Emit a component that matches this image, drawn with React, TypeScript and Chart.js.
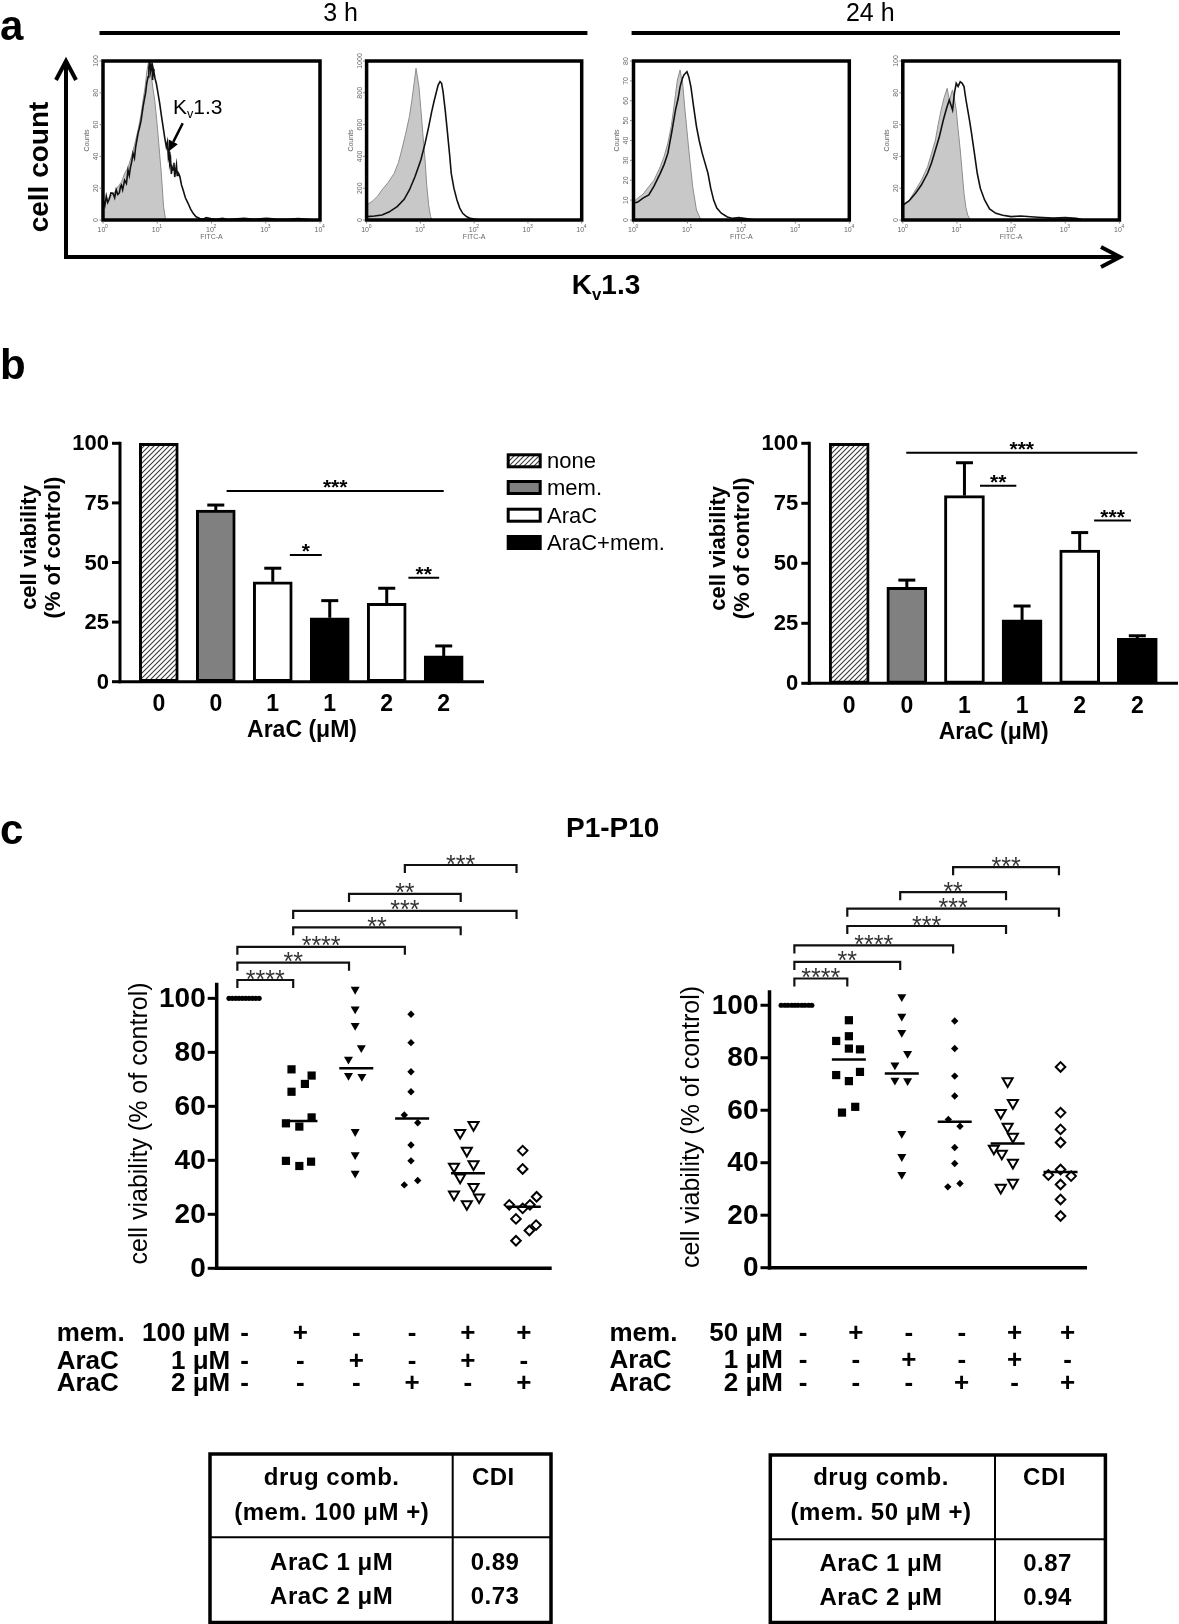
import React, { useEffect, useRef } from "react";
import { Chart, registerables } from "chart.js";

Chart.register(...registerables);

const PAGE_W = 1179;
const PAGE_H = 1624;
const SANS = '"Liberation Sans", Arial, Helvetica, sans-serif';

/* ================= Panel a : flow cytometry histograms ================= */
const histTimeLabels = ["3 h", "24 h"];
const histXTickValues = [1, 10, 100, 1000, 10000];
const histXTickExps = ["0", "1", "2", "3", "4"];
const histYMax = [100, 1000, 80, 100];
const histYStep = [20, 200, 10, 20];
const histXLabel = "FITC-A";
const histYLabel = "Counts";

// isotype control (grey filled) and Kv1.3 staining (black line)
const h1IsoX = [1, 1.15, 1.33, 1.6, 1.89, 2.2, 2.51, 2.9, 3.33, 3.8, 4.43, 5.0, 5.48, 6.0, 6.4, 6.97, 7.4, 7.8, 8.4, 9.0, 9.7, 10.3, 11.1, 11.9, 13.1, 14.3];
const h1IsoY = [10.5, 12, 14.5, 17, 21, 24, 29.4, 33, 39.8, 47, 56.6, 66, 75.5, 84, 93, 100, 94, 90, 82, 75, 64, 54.5, 41, 29, 8, 0];
const h1KvX = [1, 1.08, 1.15, 1.22, 1.3, 1.4, 1.53, 1.64, 1.75, 1.87, 2.0, 2.1, 2.18, 2.3, 2.5, 2.7, 2.89, 3.05, 3.2, 3.4, 3.58, 3.8, 4.0, 4.2, 4.43, 4.7, 5.0, 5.2, 5.48, 5.8, 6.1, 6.4, 6.78, 7.0, 7.3, 7.55, 7.8, 8.0, 8.2, 8.45, 8.7, 9.1, 9.6, 10.3, 11.1, 12.0, 12.8, 13.7, 14.7, 15.4, 16, 16.5, 17, 17.6, 18.2, 18.9, 19.6, 20.3, 21, 21.8, 22.6, 23.3, 24, 25, 26.1, 28, 30, 33, 37, 41, 45.9, 52, 61, 70, 80, 100, 123, 160, 200, 300, 400, 600, 1039, 1500, 2500, 4000, 5640, 8000];
const h1KvY = [12.6, 9, 15, 11, 13, 17, 16.8, 14, 19, 16, 17, 21, 22, 19, 25, 23, 31.4, 28, 33, 37, 41.9, 39, 46, 50, 54.5, 58, 62, 66, 71.3, 76, 80, 86, 90, 96, 100, 94, 97.5, 99, 88, 95, 93, 89, 86, 80, 73.4, 65, 58.7, 52, 46, 49, 40, 43, 35.6, 38, 29, 33, 31.4, 36, 27, 31, 34.6, 28, 30, 29, 27.3, 22, 18.9, 14, 10.5, 7, 4.2, 2, 1, 0.5, 1.5, 0.8, 0.5, 1, 0.3, 0.8, 1, 0.4, 1, 0.6, 0.5, 0.9, 0.5, 0];

const h2IsoX = [1, 1.3, 1.6, 1.93, 2.5, 3.25, 3.9, 4.5, 5.3, 6.25, 7.0, 7.65, 8.3, 8.8, 9.4, 10.2, 11.1, 12.2, 13.2, 14.3, 15.5, 16.8];
const h2IsoY = [94, 120, 150, 189, 235, 293, 360, 440, 540, 650, 760, 860, 954, 900, 839, 700, 545, 380, 210, 90, 21, 0];
const h2KvX = [1, 1.4, 1.93, 2.6, 3.7, 5.0, 6.25, 8.0, 10.2, 12.2, 14.3, 16.2, 18.2, 20, 21.4, 23.2, 24.8, 26.4, 29, 32, 35, 37.5, 42, 47.9, 54, 61.3, 72, 84.5, 105, 138];
const h2KvY = [21, 25, 31, 50, 84, 130, 189, 275, 377, 480, 587, 680, 755, 810, 849, 870, 860, 807, 690, 545, 410, 293, 200, 126, 75, 42, 22, 10, 4, 0];

const h3IsoX = [1, 1.2, 1.5, 1.92, 2.4, 3.13, 3.7, 4.33, 5.0, 5.52, 6.0, 6.5, 7.3, 7.7, 8.05, 9.0, 10.6, 12.5, 14.7, 17.3, 19.4];
const h3IsoY = [9.2, 11, 13, 16.8, 20, 26.8, 32, 38.6, 47, 55.3, 63, 70.4, 75.5, 72, 70.4, 55.3, 35.2, 16.8, 5, 0.8, 0];
const h3KvX = [1, 1.2, 1.5, 1.92, 2.4, 3.13, 3.7, 4.33, 5.1, 6.0, 6.7, 7.3, 8.0, 8.6, 9.8, 10.6, 11.6, 13, 14.7, 16.5, 18.8, 21, 24, 27, 30.6, 35, 42.4, 55, 69, 90, 112, 183];
const h3KvY = [8.4, 9, 11, 12.6, 17, 23.5, 28, 33.5, 44, 55.3, 61, 67, 71, 73, 74.6, 72, 67, 57, 47, 40, 33.5, 29, 23.5, 16, 10, 6, 3.4, 1.5, 0.8, 1.2, 0.8, 0];

const h4IsoX = [1.0, 1.3, 1.72, 2.2, 2.87, 3.4, 4.0, 4.5, 5.1, 5.8, 6.6, 7.0, 7.4, 7.9, 8.3, 9.0, 9.7, 10.5, 11.5, 12.5, 13.5, 14.6, 15.8, 17.7];
const h4IsoY = [8.4, 12, 18.9, 25, 33.5, 42, 50.3, 60, 69.2, 77, 82.8, 78, 75.5, 80, 81.8, 76, 69.2, 57, 44, 30, 16.8, 8, 3.1, 0];
const h4KvX = [1.0, 1.3, 1.72, 2.2, 2.87, 3.4, 4.0, 4.7, 5.6, 6.4, 7.2, 7.8, 8.3, 9.0, 9.7, 10.5, 11.5, 12.5, 13.5, 14.6, 15.8, 17.2, 18.6, 21, 23.7, 27, 32.4, 40, 52.4, 70, 100, 150, 312, 600, 1000, 1600, 2200];
const h4KvY = [9.4, 12, 16.8, 22, 29.4, 36, 44, 52, 62.9, 70, 75.5, 72, 69.2, 80, 86, 84, 87, 86, 83.9, 76, 69.2, 62, 54.5, 42, 29.4, 20, 12.6, 7, 4.2, 3, 2.1, 2.5, 1.7, 1.2, 1.5, 1, 0];

const histIso = [[h1IsoX, h1IsoY], [h2IsoX, h2IsoY], [h3IsoX, h3IsoY], [h4IsoX, h4IsoY]];
const histKv = [[h1KvX, h1KvY], [h2KvX, h2KvY], [h3KvX, h3KvY], [h4KvX, h4KvY]];

/* ================= Panel b : bar charts ================= */
const bCategories = ["0", "0", "1", "1", "2", "2"];
const bSeriesNames = ["none", "mem.", "AraC", "AraC+mem."];
const bSeriesOfBar = [0, 1, 2, 3, 2, 3];
const bYTicks = [0, 25, 50, 75, 100];
const bXTitle = "AraC (μM)";
const bYTitle = ["cell viability", "(% of control)"];
const bLeftValues = [100, 72.0, 41.9, 26.8, 32.9, 10.8];
const bLeftUpper = [null, 74.1, 47.6, 34.0, 39.2, 15.0];
const bRightValues = [100, 40.0, 78.2, 26.4, 55.5, 18.7];
const bRightUpper = [null, 43.0, 91.9, 32.2, 62.8, 19.8];
// [from x, to x, level, label]
const bLeftSig = [[2.19, 6.0, 80.0, "***"], [3.3, 3.86, 53.1, "*"], [5.38, 5.92, 43.6, "**"]];
const bRightSig = [[1.99, 6.0, 96.1, "***"], [3.27, 3.9, 82.3, "**"], [5.25, 5.89, 67.8, "***"]];

/* ================= Panel c : dot plots ================= */
const cTitle = "P1-P10";
const cYTicks = [0, 20, 40, 60, 80, 100];
const cYTitle = "cell viability (% of control)";
const cRowNames = ["mem.", "AraC", "AraC"];
const cLeftRowDoses = ["100 μM", "1 μM", "2 μM"];
const cRightRowDoses = ["50 μM", "1 μM", "2 μM"];
const cSignRows = [
  ["-", "+", "-", "-", "+", "+"],
  ["-", "-", "+", "-", "+", "-"],
  ["-", "-", "-", "+", "-", "+"],
];

const cLeftCtrlX = [0.72, 0.78, 0.84, 0.9, 0.96, 1.02, 1.08, 1.14, 1.2, 1.26];
const cLeftCtrlY = [100, 100, 100, 100, 100, 100, 100, 100, 100, 100];
const cLeftMemX = [1.84, 2.2, 2.08, 1.84, 2.2, 1.74, 1.98, 1.74, 1.98, 2.19];
const cLeftMemY = [73.7, 71.4, 68.3, 65.4, 55.9, 53.7, 52.5, 39.8, 37.9, 39.5];
const cLeftAra1X = [2.98, 2.98, 2.98, 3.09, 2.86, 2.86, 3.1, 2.98, 2.98, 2.98];
const cLeftAra1Y = [103.3, 96.0, 89.9, 81.7, 77.4, 71.4, 71.0, 50.6, 42.0, 35.2];
const cLeftAra2X = [3.98, 3.98, 3.98, 3.98, 3.86, 4.1, 3.98, 3.98, 3.86, 4.1];
const cLeftAra2Y = [94.1, 83.6, 72.8, 65.4, 56.8, 53.9, 45.7, 39.8, 30.9, 32.5];
const cLeftAra1MemX = [4.86, 5.1, 4.98, 4.75, 5.1, 4.86, 5.1, 4.75, 5.2, 4.98];
const cLeftAra1MemY = [50.2, 53.1, 43.6, 37.7, 38.6, 33.7, 30.2, 27.4, 26.3, 23.8];
const cLeftAra2MemX = [5.98, 5.98, 6.23, 5.74, 5.98, 6.11, 5.86, 6.22, 6.1, 5.86];
const cLeftAra2MemY = [43.6, 36.8, 26.5, 23.5, 22.2, 23.5, 18.3, 16.0, 14.0, 10.2];
const cLeftMedians = [null, 54.6, 74.1, 55.5, 35.2, 22.8];
const cLeftBrackets = [[1, 2, 106.8, "****"], [1, 3, 113.2, "**"], [1, 4, 119.1, "****"], [2, 5, 126.3, "**"], [2, 6, 132.4, "***"], [3, 5, 138.7, "**"], [4, 6, 149.4, "***"]];

const cRightCtrlX = [0.72, 0.79, 0.85, 0.92, 0.98, 1.04, 1.11, 1.17, 1.24, 1.3];
const cRightCtrlY = [100, 100, 100, 100, 100, 100, 100, 100, 100, 100];
const cRightMemX = [2, 1.76, 2, 2, 2.21, 1.76, 2.21, 2, 1.87, 2.12];
const cRightMemY = [94.3, 86.4, 88.2, 83.5, 83.2, 73.4, 74.6, 71.1, 59.1, 61.3];
const cRightAra1X = [3, 3, 3, 3.11, 2.87, 2.87, 3.11, 3, 3, 3];
const cRightAra1Y = [103.2, 95.8, 89.6, 81.6, 77.2, 71.4, 71.2, 51.1, 42.3, 35.5];
const cRightAra2X = [4, 4, 4, 4, 3.88, 4.1, 4, 4, 3.87, 4.1];
const cRightAra2Y = [94.0, 83.5, 73.0, 65.4, 56.5, 53.9, 45.8, 39.7, 30.8, 32.1];
const cRightAra1MemX = [5, 5.1, 4.87, 5, 5.1, 4.74, 4.89, 5.1, 5.1, 4.87];
const cRightAra1MemY = [71.1, 62.8, 59.0, 53.7, 49.9, 45.4, 43.5, 40.0, 32.4, 30.5];
const cRightAra2MemX = [6, 6, 6, 6, 6, 5.77, 6.2, 6, 6, 6];
const cRightAra2MemY = [76.5, 59.1, 52.7, 47.7, 37.4, 35.3, 34.9, 31.7, 26.0, 19.7];
const cRightMedians = [null, 79.3, 74.0, 55.6, 47.3, 36.5];
const cRightBrackets = [[1, 2, 110.2, "****"], [1, 3, 116.5, "**"], [1, 4, 122.8, "****"], [2, 5, 130.2, "***"], [2, 6, 136.8, "***"], [3, 5, 143.1, "**"], [4, 6, 152.6, "***"]];

/* ================= Tables ================= */
const tableHead = ["drug comb.", "CDI"];
const leftTableSub = "(mem. 100 μM +)";
const rightTableSub = "(mem. 50 μM +)";
const tableRows = ["AraC 1 μM", "AraC 2 μM"];
const leftCDI = ["0.89", "0.73"];
const rightCDI = ["0.87", "0.94"];

/* ================= Layout (styles only) ================= */
const HIST_AREAS = [
  { left: 103, top: 61, right: 320, bottom: 220 },
  { left: 366.6, top: 61, right: 581.7, bottom: 220 },
  { left: 633.5, top: 61, right: 849.3, bottom: 220 },
  { left: 902.8, top: 61, right: 1119.4, bottom: 220 },
];
const B_LEFT = { left: 120, top: 443.3, right: 484, bottom: 681.7, xMin: 0.319, xMax: 6.707, barW: 39 };
const B_RIGHT = { left: 809.3, top: 443.3, right: 1178, bottom: 683.3, xMin: 0.3075, xMax: 6.706, barW: 40 };
const C_LEFT = { left: 216.7, top: 982.7, right: 551.7, bottom: 1268.3, yMax: 105.8, shift: -0.13, signShift: 0 };
const C_RIGHT = { left: 769.5, top: 990.3, right: 1087, bottom: 1267.7, yMax: 105.7, shift: -0.03, signShift: 7 };

function pad(a: any) {
  return { left: a.left, top: a.top, right: PAGE_W - a.right, bottom: PAGE_H - a.bottom };
}

function baseOptions(area: any, scales: any) {
  return {
    responsive: false,
    animation: false,
    events: [],
    layout: { padding: pad(area) },
    plugins: { legend: { display: false }, tooltip: { enabled: false }, title: { display: false } },
    scales,
  };
}

function line(ctx: CanvasRenderingContext2D, x1: number, y1: number, x2: number, y2: number) {
  ctx.beginPath();
  ctx.moveTo(x1, y1);
  ctx.lineTo(x2, y2);
  ctx.stroke();
}

function rotText(ctx: CanvasRenderingContext2D, s: string, x: number, y: number) {
  ctx.save();
  ctx.translate(x, y);
  ctx.rotate(-Math.PI / 2);
  ctx.fillText(s, 0, 0);
  ctx.restore();
}

function makeHatch() {
  const c = document.createElement("canvas");
  c.width = 5;
  c.height = 5;
  const g = c.getContext("2d")!;
  g.fillStyle = "#fff";
  g.fillRect(0, 0, 5, 5);
  g.strokeStyle = "#3a3a3a";
  g.lineWidth = 1.1;
  g.beginPath();
  g.moveTo(0, 5); g.lineTo(5, 0);
  g.moveTo(-1, 1); g.lineTo(1, -1);
  g.moveTo(4, 6); g.lineTo(6, 4);
  g.stroke();
  return g.createPattern(c, "repeat");
}

/* ---------- histogram chart ---------- */
function histConfig(i: number) {
  const area = HIST_AREAS[i];
  const [kx, ky] = histKv[i];
  const [ix, iy] = histIso[i];
  return {
    type: "scatter",
    data: {
      datasets: [
        { data: kx.map((x, j) => ({ x, y: ky[j] })), showLine: true, borderColor: "#111", borderWidth: 1.6, pointRadius: 0, fill: false, tension: 0 },
        { data: ix.map((x, j) => ({ x, y: iy[j] })), showLine: true, borderColor: "#8d8d8d", borderWidth: 1, backgroundColor: "#c8c8c8", pointRadius: 0, fill: "origin", tension: 0 },
      ],
    },
    options: baseOptions(area, {
      x: { type: "logarithmic", min: 1, max: 10000, display: false, offset: false },
      y: { type: "linear", min: 0, max: histYMax[i], display: false },
    }),
    plugins: [
      {
        id: "histDecor",
        afterDatasetsDraw(chart: any) {
          const { ctx, chartArea: a, scales } = chart;
          const xs = scales.x, ys = scales.y;
          ctx.save();
          ctx.strokeStyle = "#000";
          ctx.lineWidth = 3.5;
          ctx.strokeRect(a.left, a.top, a.right - a.left, a.bottom - a.top);
          ctx.fillStyle = "#666";
          ctx.strokeStyle = "#666";
          ctx.lineWidth = 0.8;
          ctx.textAlign = "center";
          ctx.textBaseline = "middle";
          ctx.font = `7px ${SANS}`;
          for (let v = 0; v <= histYMax[i]; v += histYStep[i]) {
            const py = ys.getPixelForValue(v);
            line(ctx, a.left - 3.5, py, a.left - 1.7, py);
            rotText(ctx, String(v), a.left - 7, py);
          }
          rotText(ctx, histYLabel, a.left - 16, (a.top + a.bottom) / 2);
          histXTickValues.forEach((v, k) => {
            const px = xs.getPixelForValue(v);
            line(ctx, px, a.bottom + 1.7, px, a.bottom + 3.5);
            ctx.font = `7px ${SANS}`;
            ctx.fillText("10", px - 1.5, a.bottom + 10);
            ctx.font = `5px ${SANS}`;
            ctx.fillText(histXTickExps[k], px + 3.5, a.bottom + 7);
          });
          ctx.font = `7px ${SANS}`;
          ctx.fillText(histXLabel, xs.getPixelForValue(100), a.bottom + 17.5);
          ctx.restore();
        },
      },
    ],
  };
}

/* ---------- bar chart ---------- */
function barConfig(area: any, values: number[], upper: (number | null)[], sig: any[]) {
  const hatch = makeHatch();
  const fills = [hatch, "#808080", "#ffffff", "#000000"];
  return {
    type: "bar",
    data: {
      datasets: [
        {
          data: values.map((v, i) => ({ x: i + 1, y: v })),
          backgroundColor: bSeriesOfBar.map((s) => fills[s]),
          borderColor: "#000",
          borderWidth: 3,
          borderSkipped: false,
          barThickness: area.barW,
          clip: false,
        },
      ],
    },
    options: baseOptions(area, {
      x: { type: "linear", min: area.xMin, max: area.xMax, display: false, offset: false, grid: { offset: false } },
      y: { type: "linear", min: 0, max: 100, display: false },
    }),
    plugins: [
      {
        id: "barDecor",
        afterDatasetsDraw(chart: any) {
          const { ctx, chartArea: a, scales } = chart;
          const x = scales.x, y = scales.y;
          ctx.save();
          ctx.strokeStyle = "#000";
          ctx.fillStyle = "#000";
          ctx.lineWidth = 3;
          upper.forEach((u, i) => {
            if (u == null) return;
            const px = x.getPixelForValue(i + 1);
            const y0 = y.getPixelForValue(values[i]);
            const y1 = y.getPixelForValue(u);
            line(ctx, px, y0, px, y1);
            line(ctx, px - 8.5, y1, px + 8.5, y1);
          });
          line(ctx, a.left, a.bottom + 1.5, a.left, y.getPixelForValue(100) - 1.5);
          line(ctx, a.left - 1.5, a.bottom, a.right, a.bottom);
          ctx.font = `bold 22px ${SANS}`;
          ctx.textAlign = "right";
          ctx.textBaseline = "middle";
          bYTicks.forEach((v) => {
            const py = y.getPixelForValue(v);
            line(ctx, a.left - 8, py, a.left, py);
            ctx.fillText(String(v), a.left - 11, py + 1);
          });
          ctx.textAlign = "center";
          ctx.font = `bold 23px ${SANS}`;
          bCategories.forEach((c, i) => ctx.fillText(c, x.getPixelForValue(i + 1), a.bottom + 23));
          ctx.fillText(bXTitle, (a.left + a.right) / 2, a.bottom + 49);
          ctx.font = `bold 22px ${SANS}`;
          const mid = (a.top + a.bottom) / 2 - 15;
          rotText(ctx, bYTitle[0], a.left - 90, mid);
          rotText(ctx, bYTitle[1], a.left - 66, mid);
          ctx.lineWidth = 2;
          ctx.font = `bold 21px ${SANS}`;
          ctx.textBaseline = "alphabetic";
          sig.forEach(([x1, x2, lv, lab]: any) => {
            const py = y.getPixelForValue(lv);
            const p1 = x.getPixelForValue(x1), p2 = x.getPixelForValue(x2);
            line(ctx, p1, py, p2, py);
            ctx.fillText(lab, (p1 + p2) / 2, py + 3);
          });
          ctx.restore();
        },
      },
    ],
  };
}

/* ---------- dot plot ---------- */
const markerStyles = [
  { pointStyle: "circle", pointRadius: 2.6, pointRotation: 0, pointBackgroundColor: "#000", pointBorderColor: "#000", pointBorderWidth: 0 },
  { pointStyle: "rect", pointRadius: 5.8, pointRotation: 0, pointBackgroundColor: "#000", pointBorderColor: "#000", pointBorderWidth: 0 },
  { pointStyle: "triangle", pointRadius: 5.2, pointRotation: 180, pointBackgroundColor: "#000", pointBorderColor: "#000", pointBorderWidth: 0 },
  { pointStyle: "rectRot", pointRadius: 3.7, pointRotation: 0, pointBackgroundColor: "#000", pointBorderColor: "#000", pointBorderWidth: 0 },
  { pointStyle: "triangle", pointRadius: 5.8, pointRotation: 180, pointBackgroundColor: "#fff", pointBorderColor: "#000", pointBorderWidth: 2 },
  { pointStyle: "rectRot", pointRadius: 4.8, pointRotation: 0, pointBackgroundColor: "#fff", pointBorderColor: "#000", pointBorderWidth: 2 },
];

function dotConfig(area: any, groups: number[][][], medians: (number | null)[], brackets: any[], doses: string[]) {
  return {
    type: "scatter",
    data: {
      datasets: groups.map(([gx, gy], k) => ({
        data: gx.map((x, j) => ({ x, y: gy[j] })),
        ...markerStyles[k],
        clip: false,
      })),
    },
    options: baseOptions(area, {
      x: { type: "linear", min: 0.5, max: 6.5, display: false, offset: false },
      y: { type: "linear", min: 0, max: area.yMax, display: false },
    }),
    plugins: [
      {
        id: "dotDecor",
        afterDatasetsDraw(chart: any) {
          const { ctx, chartArea: a, scales } = chart;
          const x = scales.x, y = scales.y;
          ctx.save();
          ctx.strokeStyle = "#000";
          ctx.fillStyle = "#000";
          ctx.lineWidth = 2.5;
          medians.forEach((m, k) => {
            if (m == null) return;
            const px = x.getPixelForValue(k + 1);
            const py = y.getPixelForValue(m);
            line(ctx, px - 17, py, px + 17, py);
          });
          ctx.lineWidth = 3.5;
          line(ctx, a.left, a.bottom + 1.75, a.left, a.top);
          line(ctx, a.left - 1.75, a.bottom, a.right, a.bottom);
          ctx.lineWidth = 3;
          ctx.font = `bold 28px ${SANS}`;
          ctx.textAlign = "right";
          ctx.textBaseline = "middle";
          cYTicks.forEach((v) => {
            const py = y.getPixelForValue(v);
            line(ctx, a.left - 9, py, a.left, py);
            ctx.fillText(String(v), a.left - 11, py + 1);
          });
          ctx.textAlign = "center";
          ctx.font = `25px ${SANS}`;
          rotText(ctx, cYTitle, a.left - 77, (a.top + a.bottom) / 2 - 2);
          // significance brackets
          ctx.lineWidth = 2.2;
          ctx.strokeStyle = "#111";
          ctx.fillStyle = "#333";
          ctx.font = `25px ${SANS}`;
          ctx.textBaseline = "alphabetic";
          brackets.forEach(([g1, g2, lv, lab]: any) => {
            const x1 = x.getPixelForValue(g1 + area.shift);
            const x2 = x.getPixelForValue(g2 + area.shift);
            const py = y.getPixelForValue(lv);
            ctx.beginPath();
            ctx.moveTo(x1, py + 8);
            ctx.lineTo(x1, py);
            ctx.lineTo(x2, py);
            ctx.lineTo(x2, py + 8);
            ctx.stroke();
            ctx.fillText(lab, (x1 + x2) / 2, py + 7.5);
          });
          // treatment rows
          ctx.fillStyle = "#000";
          ctx.font = `bold 26px ${SANS}`;
          ctx.textBaseline = "middle";
          const rowY = [a.bottom + 66, a.bottom + 93.5, a.bottom + 116];
          cSignRows.forEach((row, r) =>
            row.forEach((s, k) => ctx.fillText(s, x.getPixelForValue(k + 1) + area.signShift, rowY[r]))
          );
          ctx.textAlign = "left";
          cRowNames.forEach((n, r) => ctx.fillText(n, a.left - 160, rowY[r]));
          ctx.textAlign = "right";
          doses.forEach((d, r) => ctx.fillText(d, a.left + 13.5, rowY[r]));
          ctx.restore();
        },
      },
    ],
  };
}

function PageChart({ build }: { build: () => any }) {
  const ref = useRef<HTMLCanvasElement | null>(null);
  useEffect(() => {
    if (!ref.current) return;
    const chart = new Chart(ref.current, build());
    return () => chart.destroy();
  }, []);
  return <canvas ref={ref} width={PAGE_W} height={PAGE_H} style={{ position: "absolute", left: 0, top: 0, width: PAGE_W, height: PAGE_H }} />;
}

function Label(props: any) {
  const { x, y, size, bold, align = "left", rotate, spacing, children, color } = props;
  const tx = align === "center" ? "-50%" : align === "right" ? "-100%" : "0";
  return (
    <div
      style={{
        position: "absolute",
        left: x,
        top: y,
        fontFamily: SANS,
        fontSize: size,
        lineHeight: `${size}px`,
        fontWeight: bold ? 700 : 400,
        whiteSpace: "nowrap",
        color: color || "#000",
        letterSpacing: spacing,
        transform: rotate ? `translate(-50%,-50%) rotate(${rotate}deg)` : `translate(${tx},-50%)`,
      }}
    >
      {children}
    </div>
  );
}

const subStyle = { fontSize: "0.6em", position: "relative" as const, top: "0.35em" };

function Decor() {
  const legendTops = [453.3, 480, 507.7, 535];
  const legendFill = ["url(#hatch)", "#808080", "#ffffff", "#000000"];
  return (
    <svg width={PAGE_W} height={PAGE_H} style={{ position: "absolute", left: 0, top: 0 }}>
      <defs>
        <pattern id="hatch" width="5" height="5" patternUnits="userSpaceOnUse">
          <rect width="5" height="5" fill="#fff" />
          <path d="M0,5 L5,0 M-1,1 L1,-1 M4,6 L6,4" stroke="#3a3a3a" strokeWidth="1.1" />
        </pattern>
      </defs>
      {/* time bars */}
      <line x1={99.5} y1={33} x2={587.4} y2={33} stroke="#000" strokeWidth={4} />
      <line x1={631.6} y1={33} x2={1120} y2={33} stroke="#000" strokeWidth={4} />
      {/* panel a axes arrows */}
      <line x1={66} y1={259} x2={66} y2={63} stroke="#000" strokeWidth={4} />
      <polyline points="56,80 66,61 76,80" fill="none" stroke="#000" strokeWidth={4} />
      <line x1={64} y1={257} x2={1118} y2={257} stroke="#000" strokeWidth={4} />
      <polyline points="1101,247 1120,257 1101,267" fill="none" stroke="#000" strokeWidth={4} />
      {/* Kv1.3 pointer */}
      <line x1={182.7} y1={123.3} x2={173.3} y2={141.9} stroke="#000" strokeWidth={2.5} />
      <polygon points="168.3,151.7 177.8,144.2 168.8,139.6" fill="#000" />
      {/* legend swatches */}
      {legendTops.map((t, i) => (
        <rect key={i} x={508.2} y={t + 1.5} width={32} height={12} fill={legendFill[i]} stroke="#000" strokeWidth={3} />
      ))}
      {/* tables */}
      <rect x={210} y={1454} width={341} height={168.5} fill="none" stroke="#000" strokeWidth={3.5} />
      <line x1={452.7} y1={1454} x2={452.7} y2={1622.5} stroke="#000" strokeWidth={2} />
      <line x1={210} y1={1537.3} x2={551} y2={1537.3} stroke="#000" strokeWidth={2} />
      <rect x={770.3} y={1455} width={335.1} height={167.5} fill="none" stroke="#000" strokeWidth={3.5} />
      <line x1={995} y1={1455} x2={995} y2={1622.5} stroke="#000" strokeWidth={2} />
      <line x1={770.3} y1={1539.3} x2={1105.4} y2={1539.3} stroke="#000" strokeWidth={2} />
    </svg>
  );
}

export default function App() {
  const cLeftGroups = [
    [cLeftCtrlX, cLeftCtrlY], [cLeftMemX, cLeftMemY], [cLeftAra1X, cLeftAra1Y],
    [cLeftAra2X, cLeftAra2Y], [cLeftAra1MemX, cLeftAra1MemY], [cLeftAra2MemX, cLeftAra2MemY],
  ];
  const cRightGroups = [
    [cRightCtrlX, cRightCtrlY], [cRightMemX, cRightMemY], [cRightAra1X, cRightAra1Y],
    [cRightAra2X, cRightAra2Y], [cRightAra1MemX, cRightAra1MemY], [cRightAra2MemX, cRightAra2MemY],
  ];
  const legendTops = [453.3, 480, 507.7, 535];
  return (
    <div style={{ position: "absolute", left: 0, top: 0, width: PAGE_W, height: PAGE_H, background: "#fff", overflow: "hidden" }}>
      <Decor />
      {HIST_AREAS.map((_, i) => (
        <PageChart key={"h" + i} build={() => histConfig(i)} />
      ))}
      <PageChart build={() => barConfig(B_LEFT, bLeftValues, bLeftUpper, bLeftSig)} />
      <PageChart build={() => barConfig(B_RIGHT, bRightValues, bRightUpper, bRightSig)} />
      <PageChart build={() => dotConfig(C_LEFT, cLeftGroups, cLeftMedians, cLeftBrackets, cLeftRowDoses)} />
      <PageChart build={() => dotConfig(C_RIGHT, cRightGroups, cRightMedians, cRightBrackets, cRightRowDoses)} />

      {/* panel letters */}
      <Label x={0} y={26} size={42} bold>a</Label>
      <Label x={0} y={365} size={42} bold>b</Label>
      <Label x={0} y={830} size={42} bold>c</Label>

      {/* panel a texts */}
      <Label x={340.6} y={12} size={25} align="center">{histTimeLabels[0]}</Label>
      <Label x={870.3} y={12} size={25} align="center">{histTimeLabels[1]}</Label>
      <Label x={39} y={167} size={28} bold rotate={-90}>cell count</Label>
      <Label x={606} y={287} size={28} bold align="center">K<span style={subStyle}>v</span>1.3</Label>
      <Label x={173} y={108} size={21}>K<span style={subStyle}>v</span>1.3</Label>

      {/* panel b legend */}
      {bSeriesNames.map((n, i) => (
        <Label key={n} x={547} y={legendTops[i] + 8} size={22}>{n}</Label>
      ))}

      {/* panel c title */}
      <Label x={566} y={828} size={28} bold>{cTitle}</Label>

      {/* tables */}
      <Label x={331.7} y={1476.7} size={24} bold align="center" spacing="0.5px">{tableHead[0]}</Label>
      <Label x={331.7} y={1511.7} size={24} bold align="center" spacing="0.5px">{leftTableSub}</Label>
      <Label x={493.3} y={1476.7} size={24} bold align="center" spacing="0.5px">{tableHead[1]}</Label>
      {tableRows.map((r, i) => (
        <Label key={"lr" + i} x={331.7} y={1561.7 + i * 34.3} size={24} bold align="center" spacing="0.5px">{r}</Label>
      ))}
      {leftCDI.map((v, i) => (
        <Label key={"lc" + i} x={495} y={1561.7 + i * 34.3} size={24} bold align="center" spacing="0.5px">{v}</Label>
      ))}
      <Label x={881} y={1476.7} size={24} bold align="center" spacing="0.5px">{tableHead[0]}</Label>
      <Label x={881} y={1511.7} size={24} bold align="center" spacing="0.5px">{rightTableSub}</Label>
      <Label x={1044.5} y={1476.7} size={24} bold align="center" spacing="0.5px">{tableHead[1]}</Label>
      {tableRows.map((r, i) => (
        <Label key={"rr" + i} x={881} y={1562.5 + i * 34} size={24} bold align="center" spacing="0.5px">{r}</Label>
      ))}
      {rightCDI.map((v, i) => (
        <Label key={"rc" + i} x={1047.5} y={1562.5 + i * 34} size={24} bold align="center" spacing="0.5px">{v}</Label>
      ))}
    </div>
  );
}
